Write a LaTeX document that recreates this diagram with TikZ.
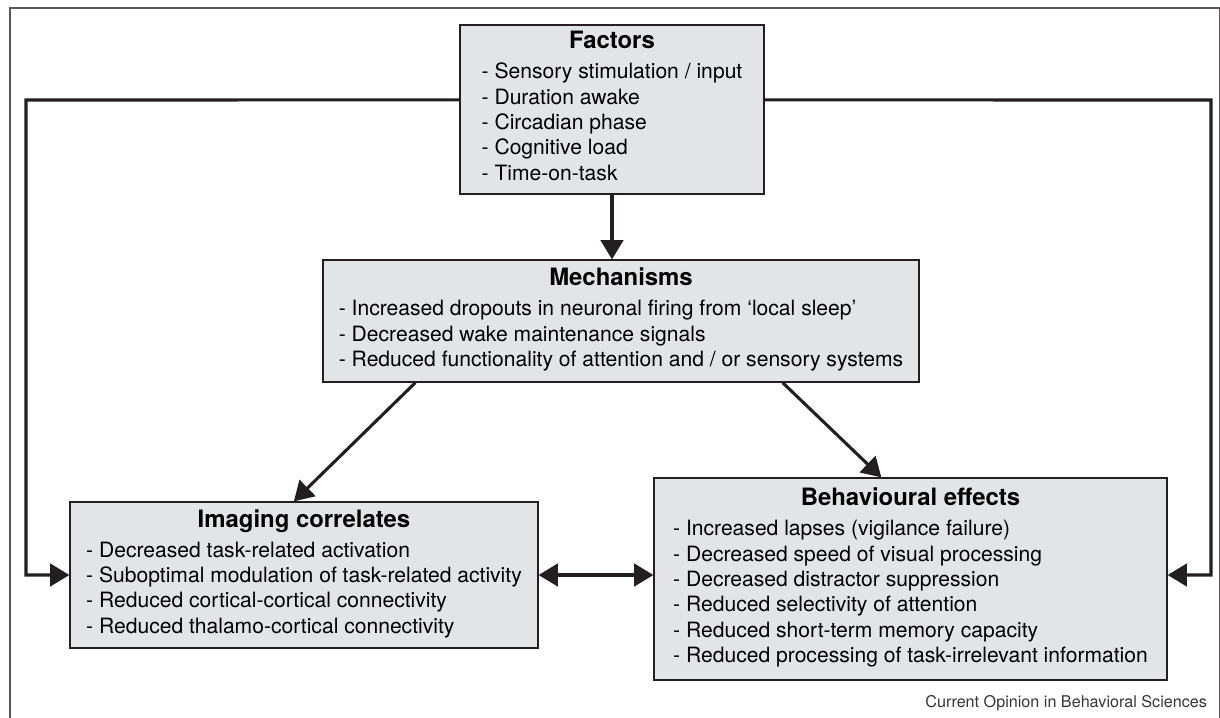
\documentclass[tikz,border=0pt]{standalone}
\usepackage{fontspec}
\setmainfont{TeX Gyre Heros}
\usetikzlibrary{positioning, calc, arrows.meta}

\definecolor{boxfill}{HTML}{E3E4E6}
\definecolor{ink}{HTML}{231F20}
\newcommand{\boxtitle}[1]{\multicolumn{1}{@{}c@{}}{\fontsize{17}{20}\selectfont\bfseries #1}}

\begin{document}
\begin{tikzpicture}[cell/.style={rectangle, draw=ink, fill=boxfill, line width=0.9pt, inner sep=0pt, font=\fontsize{15}{18}\selectfont}, conn/.style={draw=ink, line width=2.2pt}, >={Triangle[length=4.8mm,width=5.6mm]}]

\useasboundingbox (0,0) rectangle (30.5,-17.95);
\draw[ink!75, line width=0.8pt] (0.25,-0.2) rectangle (30.48,-18.5);

\node[cell, minimum width=7.6cm, minimum height=4.225cm] at (15.3,-2.7375) (fac) {\begin{tabular}{@{}l@{}}
\boxtitle{Factors}\\[3.3pt]
- Sensory stimulation / input\\
- Duration awake\\
- Circadian phase\\
- Cognitive load\\
- Time-on-task
\end{tabular}};

\node[cell, minimum width=14.9cm, minimum height=3.05cm] at (15.525,-8.025) (mech) {\begin{tabular}{@{}l@{}}
\boxtitle{Mechanisms}\\[3.3pt]
- Increased dropouts in neuronal firing from `local sleep'\\
- Decreased wake maintenance signals\\
- Reduced functionality of attention and / or sensory systems
\end{tabular}};

\node[cell, minimum width=11.7cm, minimum height=3.65cm] at (7.6,-14.375) (img) {\begin{tabular}{@{}l@{}}
\boxtitle{Imaging correlates}\\[3.3pt]
- Decreased task-related activation\\
- Suboptimal modulation of task-related activity\\
- Reduced cortical-cortical connectivity\\
- Reduced thalamo-cortical connectivity
\end{tabular}};

\node[cell, minimum width=12.825cm, minimum height=5.05cm] at (22.7625,-14.475) (beh) {\begin{tabular}{@{}l@{}}
\boxtitle{Behavioural effects}\\[3.3pt]
- Increased lapses (vigilance failure)\\
- Decreased speed of visual processing\\
- Decreased distractor suppression\\
- Reduced selectivity of attention\\
- Reduced short-term memory capacity\\
- Reduced processing of task-irrelevant information
\end{tabular}};

\node[anchor=base east, font=\fontsize{11.5}{13}\selectfont, text=ink!90] at (30.3,-17.675) (credit) {Current Opinion in Behavioral Sciences};

\coordinate (lturn) at (0.65,-2.5);
\coordinate (rturn) at (30.275,-2.5);

\draw[conn, ->] (fac.south) -- (fac.south |- mech.north);
\draw[conn, ->] ([yshift=2.4mm]fac.west) -- (lturn) |- (img.west);
\draw[conn, ->] ([yshift=2.4mm]fac.east) -- (rturn) |- ([yshift=1mm]beh.east);

\draw[conn, ->] ([xshift=2.325cm]mech.south west) -- ([xshift=5.6125cm]img.north west);
\draw[conn, ->] ([xshift=-3.425cm]mech.south east) -- ([xshift=5.7cm]beh.north west);

\draw[conn, <->] (img.east) -- (img.east -| beh.west);
\end{tikzpicture}
\end{document}
